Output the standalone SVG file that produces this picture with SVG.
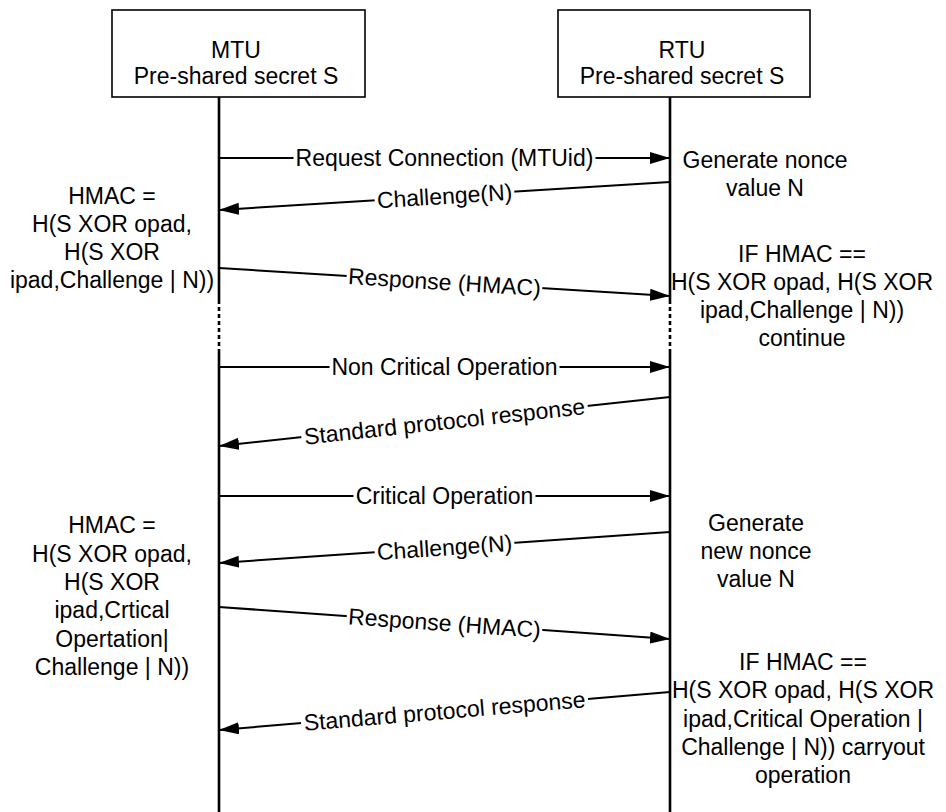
<svg xmlns="http://www.w3.org/2000/svg" width="946" height="812" viewBox="0 0 946 812">
  <style>
    text { font-family: "Liberation Sans", Arial, Helvetica, sans-serif; font-size: 23px; fill: #000; text-anchor: middle; }
    .box { fill: #fff; stroke: #000; stroke-width: 1.6; }
    .life { stroke: #000; stroke-width: 2.6; fill: none; }
    .dots { stroke: #000; stroke-width: 2.6; stroke-dasharray: 4 3; fill: none; }
    .msg line { stroke: #000; stroke-width: 2; marker-end: url(#arrow); }
    .msg rect { fill: #fff; }
  </style>
  <defs>
    <marker id="arrow" markerUnits="userSpaceOnUse" markerWidth="21" markerHeight="13" refX="20" refY="6" orient="auto">
      <path d="M0,0 L20,6 L0,12 z" fill="#000"/>
    </marker>
  </defs>
  <rect width="946" height="812" fill="#fff"/>

  <!-- participants and lifelines -->
  <g id="mtu">
    <rect class="box" x="112" y="10" width="253" height="87"/>
    <text x="236" y="58">MTU</text>
    <text x="236" y="84">Pre-shared secret S</text>
    <path class="life" d="M219,97 V300 M219,350 V812"/>
    <path class="dots" d="M219,300 V350"/>
  </g>
  <g id="rtu">
    <rect class="box" x="558" y="10" width="252" height="87"/>
    <text x="682" y="58">RTU</text>
    <text x="682" y="84">Pre-shared secret S</text>
    <path class="life" d="M670,97 V300 M670,350 V812"/>
    <path class="dots" d="M670,300 V350"/>
  </g>

  <!-- side notes -->
  <g id="mtu-hmac-1">
    <text x="112" y="204">HMAC =</text>
    <text x="112" y="232">H(S XOR opad,</text>
    <text x="112" y="260">H(S XOR</text>
    <text x="112" y="288">ipad,Challenge | N))</text>
  </g>
  <g id="rtu-nonce-1">
    <text x="765" y="168">Generate nonce</text>
    <text x="765" y="196">value N</text>
  </g>
  <g id="rtu-check-1">
    <text x="802" y="262">IF HMAC ==</text>
    <text x="802" y="290">H(S XOR opad, H(S XOR</text>
    <text x="802" y="318">ipad,Challenge | N))</text>
    <text x="802" y="346">continue</text>
  </g>
  <g id="mtu-hmac-2">
    <text x="112" y="533">HMAC =</text>
    <text x="112" y="562">H(S XOR opad,</text>
    <text x="112" y="590">H(S XOR</text>
    <text x="112" y="618">ipad,Crtical</text>
    <text x="112" y="647">Opertation|</text>
    <text x="112" y="675">Challenge | N))</text>
  </g>
  <g id="rtu-nonce-2">
    <text x="756" y="531">Generate</text>
    <text x="756" y="559">new nonce</text>
    <text x="756" y="587">value N</text>
  </g>
  <g id="rtu-check-2">
    <text x="803" y="670">IF HMAC ==</text>
    <text x="803" y="698">H(S XOR opad, H(S XOR</text>
    <text x="803" y="727">ipad,Critical Operation |</text>
    <text x="803" y="755">Challenge | N)) carryout</text>
    <text x="803" y="783">operation</text>
  </g>

  <!-- messages -->
  <g id="connectors">
    <g class="msg" id="m1">
      <line x1="219" y1="158" x2="670" y2="158"/>
      <g transform="translate(444.5,158)">
        <rect x="-151" y="-12" width="302" height="24"/>
        <text x="0" y="8">Request Connection (MTUid)</text>
      </g>
    </g>
    <g class="msg" id="m2">
      <line x1="670" y1="182" x2="219" y2="210"/>
      <g transform="translate(444.5,196) rotate(-3.55)">
        <rect x="-70" y="-12" width="140" height="24"/>
        <text x="0" y="8">Challenge(N)</text>
      </g>
    </g>
    <g class="msg" id="m3">
      <line x1="219" y1="268" x2="670" y2="296"/>
      <g transform="translate(444.5,282) rotate(3.55)">
        <rect x="-98" y="-12" width="196" height="24"/>
        <text x="0" y="8">Response (HMAC)</text>
      </g>
    </g>
    <g class="msg" id="m4">
      <line x1="219" y1="367" x2="670" y2="367"/>
      <g transform="translate(444.5,367)">
        <rect x="-115" y="-12" width="230" height="24"/>
        <text x="0" y="8">Non Critical Operation</text>
      </g>
    </g>
    <g class="msg" id="m5">
      <line x1="670" y1="397" x2="219" y2="446"/>
      <g transform="translate(444.5,421.5) rotate(-6.2)">
        <rect x="-144" y="-12" width="288" height="24"/>
        <text x="0" y="8">Standard protocol response</text>
      </g>
    </g>
    <g class="msg" id="m6">
      <line x1="219" y1="496" x2="670" y2="496"/>
      <g transform="translate(444.5,496)">
        <rect x="-91" y="-12" width="182" height="24"/>
        <text x="0" y="8">Critical Operation</text>
      </g>
    </g>
    <g class="msg" id="m7">
      <line x1="670" y1="532" x2="219" y2="563"/>
      <g transform="translate(444.5,547.5) rotate(-3.93)">
        <rect x="-70" y="-12" width="140" height="24"/>
        <text x="0" y="8">Challenge(N)</text>
      </g>
    </g>
    <g class="msg" id="m8">
      <line x1="219" y1="607" x2="670" y2="639"/>
      <g transform="translate(444.5,623) rotate(4.06)">
        <rect x="-98" y="-12" width="196" height="24"/>
        <text x="0" y="8">Response (HMAC)</text>
      </g>
    </g>
    <g class="msg" id="m9">
      <line x1="670" y1="692" x2="219" y2="730"/>
      <g transform="translate(444.5,711) rotate(-4.82)">
        <rect x="-144" y="-12" width="288" height="24"/>
        <text x="0" y="8">Standard protocol response</text>
      </g>
    </g>
  </g>
</svg>
